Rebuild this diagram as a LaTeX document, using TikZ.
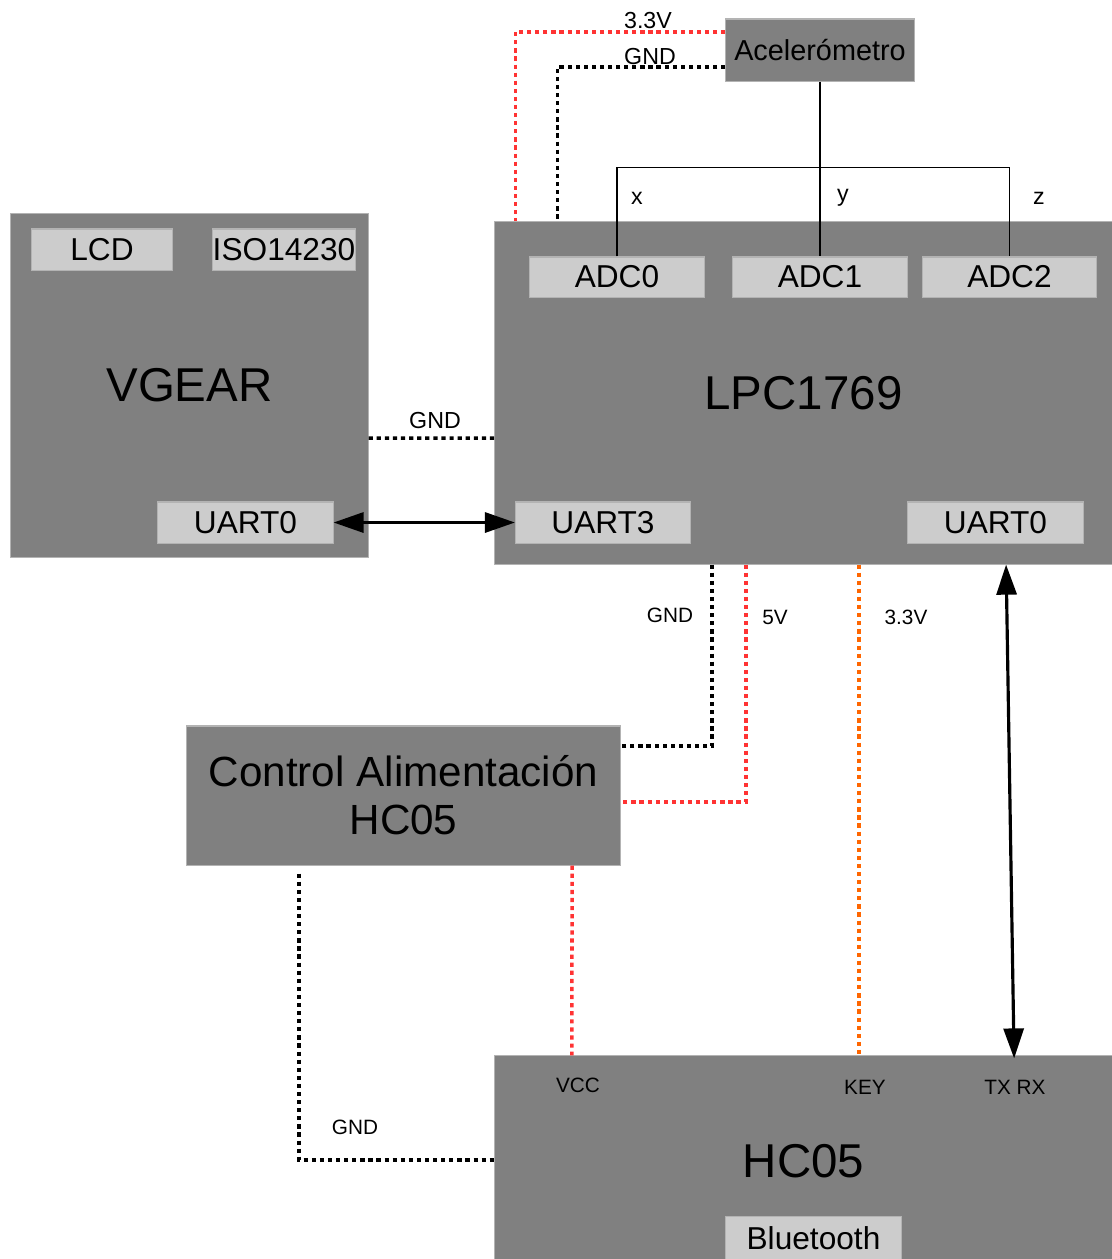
\documentclass[tikz,border=0pt]{standalone}
\usepackage{fontspec}
\setmainfont{Liberation Sans}
\usetikzlibrary{arrows.meta, positioning, calc}
\definecolor{boxgray}{HTML}{808080}
\definecolor{tagfill}{HTML}{CCCCCC}
\definecolor{edgegray}{HTML}{B3B3B3}
\definecolor{wirered}{HTML}{FF3333}
\definecolor{wireorange}{HTML}{FF6600}
\tikzset{
  block/.style={draw=edgegray,fill=boxgray,line width=0.3pt,inner sep=0pt,font=\fontsize{13.5}{15}\selectfont},
  tag/.style={draw=edgegray,fill=tagfill,line width=0.3pt,inner sep=0pt,minimum width=1.75cm,minimum height=0.41cm,font=\fontsize{9}{10}\selectfont},
  wire/.style={line width=1pt,dash pattern=on 1.2pt off 1.1pt},
  lbl/.style={inner sep=0pt,font=\fontsize{6.6}{8}\selectfont},
  smlbl/.style={inner sep=0pt,font=\fontsize{5.9}{7}\selectfont},
  bus/.style={line width=0.9pt,{Triangle[length=3mm,width=2mm]}-{Triangle[length=3mm,width=2mm]}}
}
\begin{document}
\begin{tikzpicture}[x=0.01cm,y=-0.01cm]%
  \useasboundingbox (0,0) rectangle (1112,1259);
  \node[block,minimum width=3.57cm,minimum height=3.43cm] (vgear) at (189.5,385.5) {VGEAR};
  \node[tag,minimum width=1.40cm] (lcd) at (102,249.5) {LCD};
  \node[tag,minimum width=1.40cm] (iso) at (284,249.5) {ISO14230};
  \node[tag] (uartv) at (245.5,522.5) {UART0};
  \node[block,minimum width=6.17cm,minimum height=3.42cm] (lpc) at (803.5,393) {LPC1769};
  \foreach \i/\x in {0/617,1/820,2/1009.5}
    \node[tag,minimum width=1.74cm,minimum height=0.40cm] (adc\i) at (\x,277) {ADC\i};
  \node[tag] (uart3) at (603,522.5) {UART3};
  \node[tag] (uartl) at (995.5,522.5) {UART0};
  \node[block,minimum width=1.88cm,minimum height=0.62cm,font=\fontsize{8.2}{10}\selectfont] (acel) at (820,50) {Acelerómetro};
  \node[block,minimum width=4.33cm,minimum height=1.39cm,align=center,font=\fontsize{12}{13.7}\selectfont] (ctrl) at (403.5,795.5) {Control Alimentación\\HC05};
  \node[block,minimum width=6.17cm,minimum height=2.1cm] (hc05) at (803.5,1161) {HC05};
  \node[tag,minimum height=0.43cm] (bt) at (813.5,1238) {Bluetooth};
  % acelerometro
  \draw[line width=0.3pt] (acel.south) -- (adc1.north);
  \draw[line width=0.3pt] (adc0.north) -- ++(0,-89) -| (adc2.north);
  \node[lbl] (lx) at (637,198) {x};
  \node[lbl] (ly) at (843,198) {y};
  \node[lbl] (lz) at (1039,198) {z};
  \draw[wire,wirered] ([yshift=0.18cm]acel.west) -| ([xshift=0.21cm]lpc.north west);
  \draw[wire] ([yshift=-0.17cm]acel.west) -| ([xshift=0.63cm]lpc.north west);
  \node[lbl] (l33a) at (648,20) {3.3V};
  \node[lbl] (lgnda) at (650,56) {GND};
  % vgear
  \draw[wire] ([yshift=-5.25mm]vgear.east) -- ([yshift=-4.5mm]lpc.west);
  \node[lbl] (lgndv) at (435,420) {GND};
  \draw[bus] (uartv.east) -- (uart3.west);
  % alimentacion
  \draw[wire] ([xshift=-0.915cm]lpc.south) |- ([yshift=0.495cm]ctrl.east);
  \draw[wire,wirered] ([xshift=-0.575cm]lpc.south) |- ([yshift=-0.065cm]ctrl.east);
  \draw[wire,wireorange] ([xshift=0.555cm]lpc.south) -- ([xshift=0.555cm]hc05.north);
  \draw[bus] ([xshift=2.025cm]lpc.south) -- ([xshift=2.105cm,yshift=-0.03cm]hc05.north);
  \node[smlbl] (lgndb) at (670,615) {GND};
  \node[smlbl] (l5v) at (775,617) {5V};
  \node[smlbl] (l33b) at (906,617) {3.3V};
  \draw[wire,wirered] ([xshift=1.685cm]ctrl.south) -- ([xshift=-2.315cm]hc05.north);
  \draw[wire] ([xshift=-1.045cm,yshift=-0.08cm]ctrl.south) |- ([yshift=0.01cm]hc05.west);
  \node[smlbl] (lgndc) at (355,1127) {GND};
  \node[smlbl] (lvcc) at (578,1085) {VCC};
  \node[smlbl] (lkey) at (865,1087) {KEY};
  \node[smlbl] (ltxrx) at (1015,1087) {TX RX};
\end{tikzpicture}
\end{document}
